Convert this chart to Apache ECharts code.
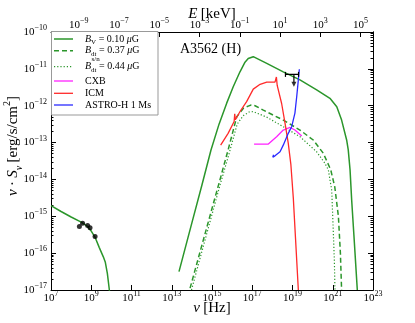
<!DOCTYPE html>
<html>
<head>
<meta charset="utf-8">
<script src="https://cdn.jsdelivr.net/npm/echarts@6/dist/echarts.min.js"></script>
<style>
  html, body { margin: 0; padding: 0; background: #fff; }
  #main { width: 415px; height: 323px; }
</style>
</head>
<body>
<div id="main"></div>
<script>
// every value is log10: frequency nu in Hz, flux nu*S_nu in erg/s/cm^2
const syncNu = [7.0, 7.5, 8.0, 8.5, 8.8, 9.0, 9.2, 9.4, 9.6, 9.7, 9.8, 9.9, 9.95];
const syncS = [-14.71, -14.87, -15.02, -15.16, -15.27, -15.40, -15.58, -15.85, -16.10, -16.25, -16.55, -17.0, -17.3];

const bvNu = [13.36, 14.0, 14.5, 14.95, 15.35, 15.73, 16.06, 16.39, 16.64, 16.8, 17.05, 17.14, 17.72, 18.54, 19.37, 20.2, 20.86, 21.2, 21.44, 21.69, 21.77, 21.86, 21.94, 22.05, 22.22];
const bvS = [-16.5, -15.18, -14.15, -13.2, -12.5, -11.93, -11.48, -11.08, -10.82, -10.72, -10.67, -10.69, -10.85, -11.08, -11.30, -11.57, -11.80, -12.03, -12.39, -12.93, -13.2, -13.74, -14.56, -15.5, -17.0];

const dtNu = [13.91, 14.5, 15.0, 15.4, 15.8, 16.23, 16.56, 16.8, 16.95, 17.14, 17.55, 18.54, 19.37, 20.03, 20.53, 20.9, 21.1, 21.28, 21.38, 21.44];
const dtS = [-16.95, -15.78, -14.79, -14.0, -13.2, -12.30, -12.07, -12.01, -11.98, -12.0, -12.12, -12.39, -12.66, -12.93, -13.29, -13.74, -14.2, -15.0, -16.0, -17.0];

const snNu = [13.98, 14.5, 15.0, 15.4, 15.85, 16.25, 16.55, 16.85, 17.05, 17.72, 18.54, 19.37, 20.2, 20.61, 20.78, 20.95, 21.03, 21.08, 21.11];
const snS = [-17.0, -15.95, -14.95, -14.15, -13.3, -12.5, -12.27, -12.17, -12.16, -12.31, -12.57, -12.84, -13.25, -13.56, -13.74, -14.3, -15.46, -16.2, -17.0];

const icmNu = [15.43, 15.8, 16.1, 16.13, 16.16, 16.4, 16.72, 17.05, 17.39, 17.72, 18.13, 18.2, 18.24, 18.46, 18.63, 18.79, 18.92, 19.04, 19.15, 19.29];
const icmS = [-13.07, -12.75, -12.43, -12.22, -12.38, -12.15, -11.89, -11.55, -11.42, -11.36, -11.36, -11.22, -11.45, -11.94, -12.48, -13.02, -13.6, -14.5, -15.6, -17.0];

const cxbNu = [17.09, 17.8, 18.21, 18.54, 18.88, 19.12, 19.46];
const cxbS = [-13.04, -13.04, -12.84, -12.66, -12.59, -12.66, -12.82];

const ahNu = [18.06, 18.02, 18.13, 18.38, 18.54, 18.79, 18.96, 19.12, 19.21, 19.29, 19.34];
const ahS = [-13.33, -13.40, -13.36, -13.25, -13.07, -12.75, -12.57, -12.2, -11.75, -11.3, -11.01];

const radioNu = [8.41, 8.57, 8.82, 8.94, 9.19];
const radioS = [-15.28, -15.19, -15.25, -15.31, -15.55];

// hard X-ray upper limit
const ulNu = [18.65, 19.3];
const ulS = -11.15;
const ulArrowNu = 19.07;
const ulArrowTip = -11.42;

const nuTicks = [7, 9, 11, 13, 15, 17, 19, 21, 23];
const eTicks = [-9, -7, -5, -3, -1, 1, 3, 5];
const sTicks = [-17, -16, -15, -14, -13, -12, -11, -10];
const logH = -17.3835; // log10 Planck constant, keV s

const legendNames = [
  '{i|B}{sub|V}{r| = 0.10 }{i|μ}{r|G}',
  '{i|B}{sub|dt}{r| = 0.37 }{i|μ}{r|G}',
  '{i|B}{sub|dt}{r| = 0.44 }{i|μ}{r|G}',
  '{r|CXB}',
  '{r|ICM}',
  '{r|ASTRO-H 1 Ms}'
];

const serif = 'Liberation Serif';
const green = '#2b962b';
const pairs = (xs, ys) => xs.map((x, i) => [x, ys[i]]);

const minorTicks = [];
for (let n = -17; n < -10; n++) {
  for (let k = 2; k < 10; k++) minorTicks.push(n + Math.log10(k));
}

const tickRich = {
  b: { fontFamily: serif, fontSize: 11, lineHeight: 16, color: '#000' },
  s: { fontFamily: serif, fontSize: 8, lineHeight: 8, verticalAlign: 'top', color: '#000' }
};
const pow10 = v => '{b|10}{s|' + String(Math.round(v)).replace('-', '\u2212') + '}';

const nameRich = {
  i: { fontFamily: serif, fontSize: 15, fontStyle: 'italic', lineHeight: 20, color: '#000' },
  r: { fontFamily: serif, fontSize: 15, lineHeight: 20, color: '#000' }
};

const black = { color: '#000', width: 1 };

function xAxisOf(pos, min, max, ticks, name, gap, label) {
  return {
    type: 'value', position: pos, min: min, max: max,
    axisLine: { onZero: false, lineStyle: black },
    axisTick: { inside: true, length: 5, customValues: ticks, lineStyle: black },
    axisLabel: Object.assign({ customValues: ticks, formatter: pow10, rich: tickRich }, label),
    splitLine: { show: false },
    name: name, nameLocation: 'middle', nameGap: gap, nameMoveOverlap: false,
    nameTextStyle: { rich: nameRich }
  };
}

function yAxisOf(pos, ticks, len, labels) {
  return {
    type: 'value', position: pos, min: -17, max: -10,
    axisLine: { onZero: false, lineStyle: black },
    axisTick: { inside: true, length: len, customValues: ticks, lineStyle: black },
    axisLabel: { show: labels, customValues: ticks, formatter: pow10, rich: tickRich, margin: 4 },
    splitLine: { show: false }
  };
}

function curve(xs, ys, color, width, dash) {
  return {
    type: 'line', data: pairs(xs, ys), symbol: 'none', silent: true,
    itemStyle: { color: color },
    lineStyle: { color: color, width: width, type: dash || 'solid' }
  };
}

// legend drawn by hand, like matplotlib's box in the corner
const rowY = [39, 50.7, 66.7, 81, 93.3, 105];
const rowLine = [
  { stroke: green, lineWidth: 1.5 },
  { stroke: green, lineWidth: 1.5, lineDash: [5, 3] },
  { stroke: green, lineWidth: 1.2, lineDash: [1.2, 2] },
  { stroke: '#ff22ff', lineWidth: 1.3 },
  { stroke: '#ff2a2a', lineWidth: 1.3 },
  { stroke: '#2a2aff', lineWidth: 1.3 }
];
const legRich = {
  i: { fontFamily: serif, fontSize: 10, fontStyle: 'italic', lineHeight: 14, fill: '#000' },
  r: { fontFamily: serif, fontSize: 10, lineHeight: 14, fill: '#000' },
  sub: { fontFamily: serif, fontSize: 7, lineHeight: 7, verticalAlign: 'bottom', fill: '#000' }
};
const graphics = [
  { type: 'rect', z: 10, shape: { x: 51.5, y: 31.5, width: 106.5, height: 83.5 },
    style: { fill: '#fff', stroke: '#999', lineWidth: 1 } }
];
rowY.forEach((y, i) => {
  graphics.push({ type: 'line', z: 11, shape: { x1: 54, y1: y, x2: 73, y2: y }, style: rowLine[i] });
  graphics.push({ type: 'text', z: 11, x: 85, y: y,
    style: { text: legendNames[i], rich: legRich, verticalAlign: 'middle' } });
});
graphics.push({ type: 'text', z: 11, x: 91.5, y: 59,
  style: { text: 's/n', font: '7px "Liberation Serif"', fill: '#000', verticalAlign: 'middle' } });
graphics.push({ type: 'text', z: 11, x: 180, y: 49,
  style: { text: 'A3562 (H)', font: '14px "Liberation Serif"', fill: '#000', verticalAlign: 'middle' } });
graphics.push({ type: 'text', z: 11, x: 13, y: 146, rotation: Math.PI / 2,
  style: {
    text: '{i|ν} {r|·} {i|S}{sub|ν} {r|[erg/s/cm}{sup|2}{r|]}',
    align: 'center', verticalAlign: 'middle',
    rich: {
      i: { fontFamily: serif, fontSize: 15, fontStyle: 'italic', lineHeight: 22, fill: '#000' },
      r: { fontFamily: serif, fontSize: 15, lineHeight: 22, fill: '#000' },
      sub: { fontFamily: serif, fontSize: 10, fontStyle: 'italic', lineHeight: 10, verticalAlign: 'bottom', fill: '#000' },
      sup: { fontFamily: serif, fontSize: 10, lineHeight: 10, verticalAlign: 'top', fill: '#000' }
    }
  } });

const chart = echarts.init(document.getElementById('main'));
chart.setOption({
  animation: false,
  backgroundColor: '#fff',
  grid: { left: 51, right: 42, top: 32, bottom: 33, containLabel: false, outerBoundsMode: 'none' },
  xAxis: [
    xAxisOf('bottom', 7, 23, nuTicks, '{i|ν} {r|[Hz]}', 8, { margin: 0 }),
    xAxisOf('top', 7 + logH, 23 + logH, eTicks, '{i|E} {r|[keV]}', 8, { margin: 7, verticalAlign: 'middle' })
  ],
  yAxis: [
    yAxisOf('left', sTicks, 5, true),
    yAxisOf('right', sTicks, 5, false),
    yAxisOf('left', minorTicks, 2.5, false),
    yAxisOf('right', minorTicks, 2.5, false)
  ],
  graphic: graphics,
  series: [
    curve(syncNu, syncS, green, 1.5),
    curve(bvNu, bvS, green, 1.5),
    curve(dtNu, dtS, green, 1.5, [5, 3]),
    curve(snNu, snS, green, 1.2, [1.2, 2]),
    curve(cxbNu, cxbS, '#ff22ff', 1.3),
    curve(icmNu, icmS, '#ff2a2a', 1.3),
    curve(ahNu, ahS, '#2a2aff', 1.3),
    {
      type: 'scatter', data: pairs(radioNu, radioS), symbol: 'circle', symbolSize: 5,
      itemStyle: { color: '#000' }, z: 5
    },
    {
      type: 'line', data: ulNu.map(x => [x, ulS]), symbol: 'rect', symbolSize: [1.2, 5],
      showSymbol: true, itemStyle: { color: '#000' }, lineStyle: { color: '#000', width: 1.3 }, z: 5
    },
    {
      type: 'line', data: [[ulArrowNu, ulS], [ulArrowNu, ulArrowTip + 0.05]], symbol: 'none',
      lineStyle: { color: '#000', width: 1.2 }, z: 5
    },
    {
      type: 'scatter', data: [[ulArrowNu, ulArrowTip]], symbol: 'triangle', symbolRotate: 180,
      symbolSize: 5, itemStyle: { color: '#000' }, z: 5
    }
  ]
});
</script>
</body>
</html>
